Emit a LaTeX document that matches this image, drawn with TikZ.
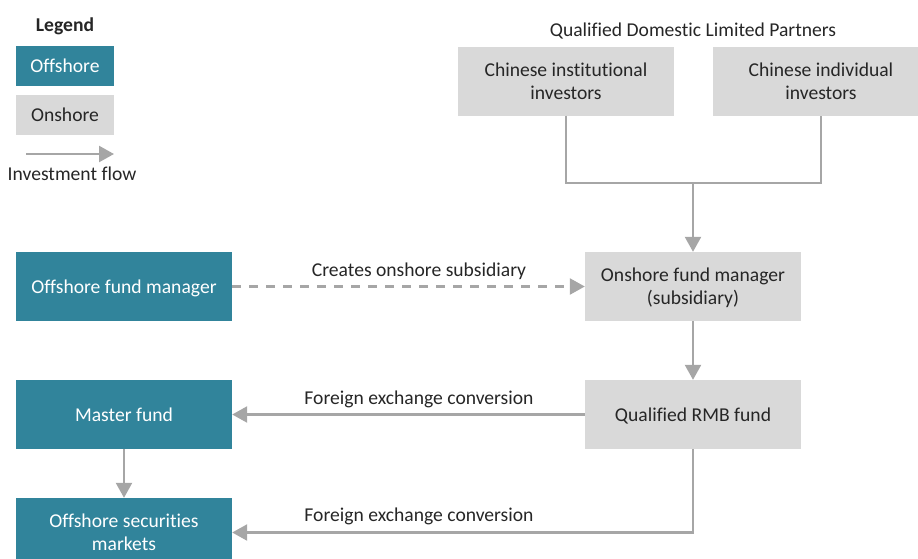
\documentclass[tikz,border=0pt]{standalone}
\usepackage{fontspec}
\setmainfont{Carlito}[Ligatures=NoCommon]
\usetikzlibrary{arrows.meta}
\definecolor{teal}{HTML}{31849B}
\definecolor{lgray}{HTML}{D9D9D9}
\definecolor{agray}{HTML}{A6A6A6}
\definecolor{tx}{HTML}{262626}
\begin{document}
\begin{tikzpicture}[x=1pt,y=-1pt,
  font=\fontsize{19.6}{23}\selectfont,
  off/.style={fill=teal,text=white,minimum width=216pt,minimum height=69pt,inner sep=0pt,align=center,text depth=0pt},
  on/.style={fill=lgray,text=tx,minimum width=216pt,minimum height=69pt,inner sep=0pt,align=center,text depth=0pt},
  flow/.style={draw=agray,line width=2.4pt,-{Triangle[length=15pt,width=16pt]}},
  plain/.style={draw=agray,line width=2.4pt},
  lbl/.style={text=tx,inner sep=0pt}]
\useasboundingbox (0,0) rectangle (918,558);
\clip (0,0) rectangle (918,558);
% legend
\node[lbl,font=\fontsize{19.6}{23}\selectfont\bfseries] (legend) at (65,26) {Legend};
\node[off,minimum width=98pt,minimum height=40pt] (legoff) at (65,66) {Offshore};
\node[on,minimum width=98pt,minimum height=40pt] (legon) at (65,115) {Onshore};
\coordinate (la) at (26,154);
\coordinate (lb) at (114,154);
\draw[flow] (la) -- (lb);
\node[lbl] (legflow) at (72,174) {Investment flow};
% QDLP
\node[lbl] (qdlp) at (693,31) {Qualified Domestic Limited Partners};
\node[on] (cii) at (566,81) {Chinese institutional\\investors};
\node[on] (cid) at (821,81) {Chinese individual\\investors};
\node[on] (onfm) at (693,286.5) {Onshore fund manager\\(subsidiary)};
\node[on] (qrmb) at (693,414.5) {Qualified RMB fund};
\node[off] (ofm) at (124,286.5) {Offshore fund manager};
\node[off] (mf) at (124,414.5) {Master fund};
\node[off] (osm) at (124,532.5) {Offshore securities\\markets};
% connectors
\coordinate (j) at (693,183);
\draw[plain] (cii.south) |- (j) -| (cid.south);
\draw[flow] (j) -- (onfm.north);
\draw[flow,dash pattern=on 9pt off 8pt] (ofm.east) -- (onfm.west);
\node[lbl] (l1) at (419,271.5) {Creates onshore subsidiary};
\draw[flow] (onfm.south) -- (qrmb.north);
\draw[flow] (qrmb.west) -- (mf.east);
\node[lbl] (l2) at (419,399.5) {Foreign exchange conversion};
\draw[flow] (mf.south) -- (osm.north);
\draw[flow] (qrmb.south) |- (osm.east);
\node[lbl] (l3) at (419,516.5) {Foreign exchange conversion};
\end{tikzpicture}
\end{document}
